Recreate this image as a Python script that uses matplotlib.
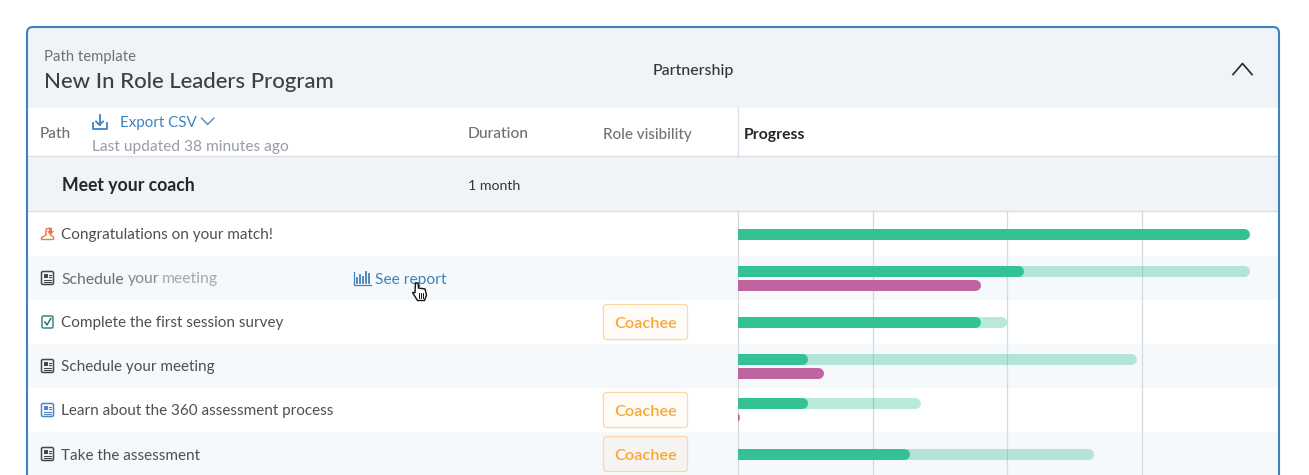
import matplotlib
matplotlib.use('Agg')
import matplotlib.pyplot as plt
from matplotlib.patches import FancyBboxPatch, Rectangle, Polygon

plt.rcParams['font.family'] = ['Lato', 'DejaVu Sans']

# Data
row_labels = ['Congratulations on your match!', 'Schedule your meeting', 'Complete the first session survey',
              'Schedule your meeting', 'Learn about the 360 assessment process', 'Take the assessment']
row_badges = [None, None, 'Coachee', None, 'Coachee', 'Coachee']
# percent of the full progress track, None where a row has no such bar
target_pct = [100.0, 100.0, 52.5, 78.0, 35.7, 69.5]
done_pct = [100.0, 55.9, 47.4, 13.6, 13.6, 33.6]
partner_pct = [None, 47.4, None, 16.8, 0.4, None]
grid_pct = [0, 26.3, 52.6, 78.9]
columns = ['Duration', 'Role visibility', 'Progress']

BLUE = '#3f81c1'
TINT = '#eff4f8'
ROW_TINT = '#f6f9fc'
LINE = '#d8dde3'
GREY = '#6f7174'
DARK = '#4d4f52'
INK = '#23262b'
GREEN = '#34c294'
PINK = '#c064a0'
ORANGE = '#f7a933'

fig = plt.figure(figsize=(13.09, 4.75), dpi=100)
bg = fig.add_axes([0, 0, 1, 1])
bg.set_xlim(0, 1309)
bg.set_ylim(475, 0)
bg.axis('off')


def label(x, y, s, size=11.0, color=DARK, weight='normal', ha='left'):
    bg.text(x, y, s, fontsize=size, color=color, fontweight=weight, ha=ha, va='center_baseline')


def doc_icon(y, color):
    bg.add_patch(FancyBboxPatch((42, y - 6), 11, 12, boxstyle='round,pad=0.5,rounding_size=1.5',
                                fc='none', ec=color, lw=1.1))
    bg.add_patch(Rectangle((44, y - 4), 3.5, 3.5, fc=color, ec='none'))
    for dy, x0 in [(-3.5, 48.5), (-1, 48.5), (1.5, 44), (3.5, 44)]:
        bg.plot([x0, 51], [y + dy, y + dy], color=color, lw=0.8)


# Card background
card = FancyBboxPatch((27, 27), 1252, 480, boxstyle='round,pad=0,rounding_size=6', fc='white', ec='none')
bg.add_patch(card)
header = Rectangle((27, 27), 1252, 81, fc=TINT, ec='none')
bg.add_patch(header)
header.set_clip_path(card)
bg.add_patch(Rectangle((27, 156), 1252, 55, fc=TINT, ec='none'))
bg.plot([27, 1279], [156, 156], color=LINE, lw=0.9)
bg.plot([27, 1279], [211, 211], color=LINE, lw=0.9)
bg.plot([737.5, 737.5], [108, 156], color=LINE, lw=0.9)
for top in [256, 344, 432]:
    bg.add_patch(Rectangle((27, top), 1252, 44, fc=ROW_TINT, ec='none'))
bg.add_patch(FancyBboxPatch((27, 27), 1252, 480, boxstyle='round,pad=0,rounding_size=6',
                            fc='none', ec=BLUE, lw=1.5, zorder=8))

# Header text
label(43.5, 55.5, 'Path template', 10.75, GREY)
label(43.5, 80, 'New In Role Leaders Program', 15.95, '#3d3f43', 'medium')
label(653, 69, 'Partnership', 11.4, '#33363a', 'medium')
bg.plot([1233, 1242.5, 1252], [74.5, 63.5, 74.5], color=INK, lw=1.2)

# Column headers
label(40, 133, 'Path', 11.2, GREY, 'medium')
label(119.5, 122, 'Export CSV', 10.9, BLUE)
bg.plot([201.5, 207.5, 214], [118, 124.5, 118], color=BLUE, lw=0.9)
label(92.5, 145, 'Last updated 38 minutes ago', 11.2, '#9b9da0')
label(468, 133, columns[0], 11.2, GREY, 'medium')
label(603, 133, columns[1], 10.9, GREY, 'medium')
label(744, 133, columns[2], 11.3, INK, 'bold')
# export icon
bg.plot([92.5, 92.5, 106.5, 106.5], [123, 129, 129, 123], color=BLUE, lw=1.3)
bg.plot([99.5, 99.5], [114.5, 125], color=BLUE, lw=1.3)
bg.plot([96, 99.5, 103], [121.5, 125, 121.5], color=BLUE, lw=1.3)

# Section row
label(62, 184.5, 'Meet your coach', 12.7, INK, 'bold')
label(468, 185, '1 month', 10.2, '#33363a')

# Row labels
row_y = [234, 278, 322, 366, 410, 454]
for i, text in enumerate(row_labels):
    if i != 1:
        label(61, row_y[i], text)
label(61, row_y[1], 'Schedule', 11.3, '#6b6d70')
label(128, row_y[1], 'your', 11.3, '#85878a')
label(162, row_y[1], 'meeting', 11.3, '#a6a8ab')

# Row icons
doc_icon(278, '#45474a')
doc_icon(366, '#45474a')
doc_icon(454, '#45474a')
doc_icon(410, '#4a86c8')
bg.add_patch(FancyBboxPatch((42.5, 316.5), 10, 11, boxstyle='round,pad=0.5,rounding_size=1.5',
                            fc='none', ec='#4f8f8f', lw=1.2))
bg.plot([44.8, 47, 50.8], [322, 325, 318.5], color='#2f6f75', lw=1.1)
bg.plot([46.5, 45.5, 46.5, 44.5, 41.5, 41.5, 53.5, 53.5, 51],
        [229, 232, 234.5, 236, 237.5, 239.5, 239.5, 237, 235.5], color='#f2783c', lw=1.0)
bg.plot([46.5, 50], [229, 228], color='#f2783c', lw=1.0)
bg.add_patch(Polygon([[49, 228], [52, 228], [52, 231], [54, 231], [50.5, 235.5], [47, 231], [49, 231]],
                     fc='#f2783c', ec='none'))

# See report link and cursor
label(375, 278.5, 'See report', 11.2, BLUE)
bg.plot([353.5, 353.5, 370.5], [271.5, 284.5, 284.5], color=BLUE, lw=0.9)
for x0, h in [(356.5, 5), (359.5, 8), (362.5, 6), (365.5, 11), (368.5, 9)]:
    bg.plot([x0, x0], [283, 283 - h], color=BLUE, lw=1.3)
bg.add_patch(Polygon([[415.5, 283], [418, 283], [418.5, 288], [425, 289], [426.5, 295], [424.5, 300.5],
                      [417.5, 300.5], [412.5, 292.5], [415, 292.5]],
                     fc='white', ec='#111111', lw=1.0, zorder=7))
for x0 in [419, 421, 423]:
    bg.plot([x0, x0], [293, 298], color='#111111', lw=0.7, zorder=7)

# Badges
for i, badge in enumerate(row_badges):
    if badge:
        face = '#f6f4f2' if i == 5 else '#fffcf8'
        bg.add_patch(FancyBboxPatch((603.5, row_y[i] - 17.5), 84, 35, boxstyle='round,pad=0,rounding_size=3',
                                    fc=face, ec='#fdd79b', lw=0.9))
        label(645.5, row_y[i], badge, 11.7, ORANGE, 'semibold', ha='center')

# Progress bars
ax = fig.add_axes([738 / 1309, 0, 538.7 / 1309, 263 / 475])
ax.patch.set_alpha(0)
ax.set_xlim(0, 105.2)
ax.set_ylim(5.477, -0.5)
ax.set_xticks(grid_pct)
ax.set_yticks([])
ax.tick_params(length=0, labelbottom=False)
ax.grid(axis='x', color='#d5d9dd', lw=0.9, clip_on=False)
ax.set_axisbelow(True)
for s in ax.spines.values():
    s.set_visible(False)

BAR_LW = 11 * 72 / 100
CAP = 6 / 5.12     # round cap radius in percent units
SHIFT = 7 / 44     # rows with a second bar split by this much

for i in range(len(row_labels)):
    two = partner_pct[i] is not None
    y = i - 0.01 - (SHIFT if two else 0)
    if target_pct[i] > done_pct[i]:
        ax.hlines(y, -CAP, target_pct[i] - CAP, color=GREEN, alpha=0.35, lw=BAR_LW, capstyle='round', zorder=3)
    ax.hlines(y, -CAP, done_pct[i] - CAP, color=GREEN, lw=BAR_LW, capstyle='round', zorder=4)
    if two:
        ax.hlines(i - 0.01 + SHIFT, -CAP, partner_pct[i] - CAP, color=PINK, lw=BAR_LW, capstyle='round', zorder=4)

fig.savefig('out.png', dpi=100)
